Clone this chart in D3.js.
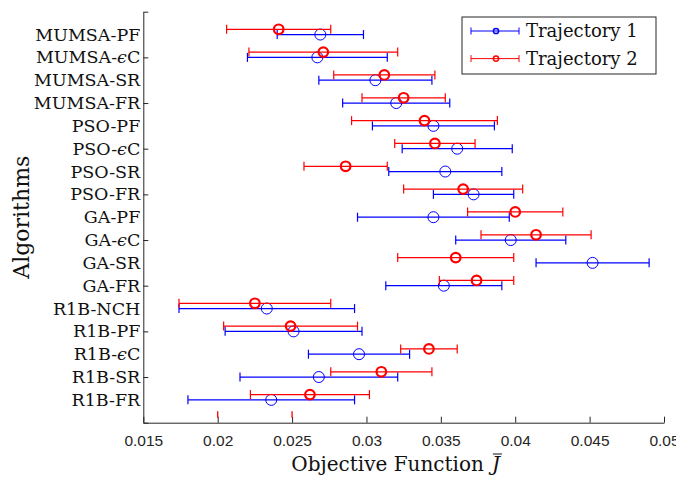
<!DOCTYPE html>
<html>
<head>
<meta charset="utf-8">
<script src="https://cdn.jsdelivr.net/npm/d3@7"></script>
<style>
  body { margin: 0; background: #fff; }
  svg { display: block; }
</style>
</head>
<body>
<div id="chart"></div>
<script>
// algorithm names, top to bottom ("eC" = epsilon-constraint)
var algorithms = ["MUMSA-PF", "MUMSA-eC", "MUMSA-SR", "MUMSA-FR",
                  "PSO-PF", "PSO-eC", "PSO-SR", "PSO-FR",
                  "GA-PF", "GA-eC", "GA-SR", "GA-FR",
                  "R1B-NCH", "R1B-PF", "R1B-eC", "R1B-SR", "R1B-FR"];

// trajectory 1: mean and half width of the error bar
var traj1Mean = [0.0269, 0.0267, 0.0306, 0.0320, 0.0345, 0.0361, 0.0353, 0.0372,
                 0.0345, 0.0397, 0.0452, 0.0352, 0.0233, 0.0251, 0.0295, 0.0268, 0.0236];
var traj1Err  = [0.0029, 0.0047, 0.0038, 0.0036, 0.0041, 0.0037, 0.0038, 0.0027,
                 0.0051, 0.0037, 0.0038, 0.0039, 0.0059, 0.0046, 0.0034, 0.0053, 0.0056];

// trajectory 2
var traj2Mean = [0.0241, 0.0271, 0.0312, 0.0325, 0.0339, 0.0346, 0.0286, 0.0365,
                 0.0400, 0.0414, 0.0360, 0.0374, 0.0225, 0.0249, 0.0342, 0.0310, 0.0262];
var traj2Err  = [0.0035, 0.0050, 0.0034, 0.0028, 0.0049, 0.0027, 0.0028, 0.0040,
                 0.0032, 0.0037, 0.0039, 0.0025, 0.0051, 0.0045, 0.0019, 0.0034, 0.0040];

var xTicks = [0.015, 0.02, 0.025, 0.03, 0.035, 0.04, 0.045, 0.05];
var yTicks = [0, 2, 4, 6, 8, 10, 12, 14, 16, 18];
var strayRedMarks = [0.02, 0.025];   // the short red strokes over the x axis

var W = 676, H = 479;
var margin = { top: 11.7, right: 12, bottom: 56.3, left: 143.3 };

var svg = d3.select("#chart").append("svg")
    .attr("width", W)
    .attr("height", H);

var x = d3.scaleLinear().domain([0.015, 0.05]).range([margin.left, W - margin.right]);
var y = d3.scaleLinear().domain([0, 18]).range([margin.top, H - margin.bottom]);

var axisColor = "#262626";
var serif = "'DejaVu Serif', serif";
var RED_SHIFT = -0.23;   // trajectory 2 drawn slightly above
var CAP = 4.5;

// axes (MATLAB-like, ticks pointing inward)
var xAxis = svg.append("g")
    .attr("transform", "translate(0," + y(18) + ")")
    .call(d3.axisBottom(x).tickValues(xTicks).tickSizeInner(-6).tickSizeOuter(0).tickPadding(12)
        .tickFormat(function (d) { return d3.format("")(+d.toFixed(3)); }));
xAxis.select(".domain").attr("stroke", axisColor);
xAxis.selectAll(".tick line").attr("stroke", axisColor);
xAxis.selectAll(".tick text")
    .attr("fill", axisColor)
    .style("font-family", "'Liberation Sans', Arial, sans-serif")
    .style("font-size", "15.5px");

var yAxis = svg.append("g")
    .attr("transform", "translate(" + x(0.015) + ",0)")
    .call(d3.axisLeft(y).tickValues(yTicks).tickSizeInner(-5).tickSizeOuter(0).tickFormat(""));
yAxis.select(".domain").attr("stroke", axisColor);
yAxis.selectAll(".tick line").attr("stroke", axisColor);

// algorithm names as y labels
var labels = svg.append("g").selectAll("text")
    .data(algorithms)
    .enter().append("text")
    .attr("x", x(0.015) - 3)
    .attr("y", function (d, i) { return y(i + 1); })
    .attr("dy", "0.35em")
    .attr("text-anchor", "end")
    .style("font-family", serif)
    .style("font-size", "17.5px")
    .attr("fill", "#111");
labels.each(function (d) {
    var t = d3.select(this);
    var parts = d.split("eC");
    t.append("tspan").text(parts[0]);
    if (parts.length > 1) {
        t.append("tspan").style("font-style", "italic").text("\u03F5");
        t.append("tspan").text("C");
    }
});

// stray red strokes sitting on the axis ticks
svg.append("g").selectAll("line")
    .data(strayRedMarks)
    .enter().append("line")
    .attr("x1", function (d) { return x(d); })
    .attr("x2", function (d) { return x(d); })
    .attr("y1", y(18) - 11.5)
    .attr("y2", y(18) - 5)
    .attr("stroke", "red")
    .attr("stroke-width", 1.3);

function drawSeries(means, errs, shift, color, r, sw) {
    var rows = means.map(function (m, i) {
        return { pos: i + 1 + shift, mean: m, lo: m - errs[i], hi: m + errs[i] };
    });
    var g = svg.append("g");
    var bar = g.selectAll("g").data(rows).enter().append("g");
    bar.append("line")
        .attr("x1", function (d) { return x(d.lo); })
        .attr("x2", function (d) { return x(d.hi); })
        .attr("y1", function (d) { return y(d.pos); })
        .attr("y2", function (d) { return y(d.pos); })
        .attr("stroke", color).attr("stroke-width", 1.2);
    ["lo", "hi"].forEach(function (k) {
        bar.append("line")
            .attr("x1", function (d) { return x(d[k]); })
            .attr("x2", function (d) { return x(d[k]); })
            .attr("y1", function (d) { return y(d.pos) - CAP; })
            .attr("y2", function (d) { return y(d.pos) + CAP; })
            .attr("stroke", color).attr("stroke-width", 1.2);
    });
    bar.append("circle")
        .attr("cx", function (d) { return x(d.mean); })
        .attr("cy", function (d) { return y(d.pos); })
        .attr("r", r)
        .attr("fill", "none")
        .attr("stroke", color)
        .attr("stroke-width", sw);
}

drawSeries(traj1Mean, traj1Err, 0, "#0000ff", 5.5, 1);
drawSeries(traj2Mean, traj2Err, RED_SHIFT, "#ff0000", 4.8, 2.2);

// axis titles
svg.append("text")
    .attr("transform", "translate(29," + ((y(0) + y(18)) / 2) + ") rotate(-90)")
    .attr("text-anchor", "middle")
    .style("font-family", serif)
    .style("font-size", "22px")
    .attr("fill", "#111")
    .text("Algorithms");

var xt = svg.append("g").attr("transform", "translate(" + ((x(0.015) + x(0.05)) / 2 - 8) + "," + (H - 8) + ")");
var xtMain = xt.append("text")
    .style("font-family", serif)
    .style("font-size", "20px")
    .attr("fill", "#111")
    .text("Objective Function");
var jt = xt.append("text")
    .style("font-family", serif)
    .style("font-size", "20px")
    .style("font-style", "italic")
    .attr("fill", "#111")
    .text("J");
var gap = 8;
var w1 = xtMain.node().getComputedTextLength();
var w2 = jt.node().getComputedTextLength();
var x0 = -(w1 + gap + w2) / 2;
xtMain.attr("x", x0);
jt.attr("x", x0 + w1 + gap);
xt.append("line")
    .attr("x1", x0 + w1 + gap + 1).attr("x2", x0 + w1 + gap + w2 + 2)
    .attr("y1", -17).attr("y2", -17)
    .attr("stroke", "#111").attr("stroke-width", 1);

// legend
var legend = svg.append("g").attr("transform", "translate(462,17)");
legend.append("rect")
    .attr("width", 194).attr("height", 57)
    .attr("fill", "#fff").attr("stroke", axisColor).attr("stroke-width", 1);
var entries = [{ name: "Trajectory 1", color: "#0000ff" }, { name: "Trajectory 2", color: "#ff0000" }];
var le = legend.selectAll("g.entry").data(entries).enter().append("g")
    .attr("class", "entry")
    .attr("transform", function (d, i) { return "translate(0," + (14 + i * 27.6) + ")"; });
le.append("line").attr("x1", 9).attr("x2", 57).attr("stroke", function (d) { return d.color; });
le.append("line").attr("x1", 9).attr("x2", 9).attr("y1", -3.5).attr("y2", 3.5).attr("stroke", function (d) { return d.color; });
le.append("line").attr("x1", 57).attr("x2", 57).attr("y1", -3.5).attr("y2", 3.5).attr("stroke", function (d) { return d.color; });
le.append("circle").attr("cx", 34).attr("r", 2.6).attr("fill", "none")
    .attr("stroke", function (d) { return d.color; }).attr("stroke-width", 1.5);
le.append("text")
    .attr("x", 64).attr("dy", "0.35em")
    .style("font-family", serif)
    .style("font-size", "18px")
    .attr("fill", "#111")
    .text(function (d) { return d.name; });
</script>
</body>
</html>
